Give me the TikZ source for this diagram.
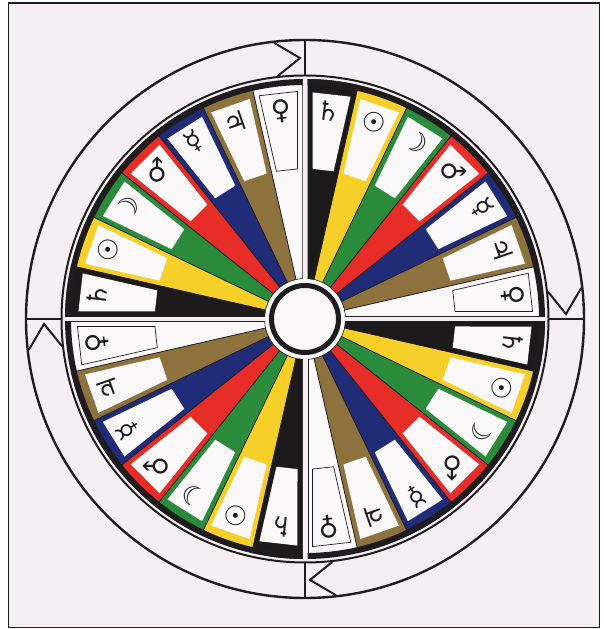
\documentclass[tikz,border=0pt]{standalone}
\usepackage{fontspec}
\newfontfamily\astro{DejaVu Sans}
\definecolor{bg}{RGB}{245,238,243}
\definecolor{ink}{RGB}{30,28,30}
\definecolor{boxw}{RGB}{251,248,250}
\definecolor{cSat}{RGB}{28,26,26}
\definecolor{cSun}{RGB}{246,208,40}
\definecolor{cMoon}{RGB}{42,140,58}
\definecolor{cMars}{RGB}{230,45,40}
\definecolor{cMerc}{RGB}{32,44,120}
\definecolor{cJup}{RGB}{142,114,62}
\definecolor{cVen}{RGB}{251,248,250}
\tikzset{
  ringline/.style={draw=ink, line width=2.4pt},
  thinline/.style={draw=ink, line width=0.8pt},
  glyph/.style={font=\astro\fontsize{27}{27}\selectfont, text=ink, inner sep=0pt, transform shape, rotate=-90},
}
\begin{document}
\begin{tikzpicture}[x=1pt,y=1pt]
\useasboundingbox (0,0) rectangle (603,629);
\fill[white] (0,0) rectangle (603,629);
\fill[bg] (8.5,1.5) rectangle (599.5,626);
\draw[ink, line width=1.6pt] (8.5,1.5) rectangle (599.5,626);
\coordinate (O) at (305,310);
\begin{scope}[shift={(O)}]
  % outer ring
  \draw[ringline] (0,0) circle (279);
  \draw[ink, line width=2pt] (0,0) circle (243.5);
  \foreach \q in {0,90,180,270}{
    \draw[ink, line width=2pt] (\q:243.5) -- (\q:279);
    \draw[ink, line width=2pt, line join=miter] (\q+6.4:278) -- (\q+1.1:261) -- (\q+6.4:244.5);
  }
  % quadrants
  \foreach \q in {0,90,180,270}{
  \begin{scope}[rotate=\q]
    \begin{scope}
      \clip (2.5,2.5) rectangle (300,300);
      \foreach \i/\col in {0/cVen,1/cJup,2/cMerc,3/cMars,4/cMoon,5/cSun,6/cSat}{
        \pgfmathsetmacro\aa{\i*90/7}
        \pgfmathsetmacro\ab{(\i+1)*90/7}
        \fill[\col] (0,0) -- (\aa:240) arc[start angle=\aa, end angle=\ab, radius=240] -- cycle;
        \draw[thinline] (0,0) -- (\aa:240);
      }
      \draw[thinline] (2.9,0) -- (2.9,240);
      \draw[thinline] (0,2.9) -- (240,2.9);
      \draw[thinline] (0,0) circle (40.4);
      \draw[ink, line width=6pt] (0,0) circle (237);
      % white boxes in coloured sectors
      \foreach \i in {1,...,6}{
        \pgfmathsetmacro\du{ifthenelse(\i==6,7.5,5)}
        \begin{scope}[rotate={(\i+0.5)*90/7}]
          \fill[boxw] (150,{-(150*tan(45/7)-5/cos(45/7))}) -- (226,{-(226*tan(45/7)-5/cos(45/7))})
            -- (226,{226*tan(45/7)-\du/cos(45/7)}) -- (150,{150*tan(45/7)-\du/cos(45/7)}) -- cycle;
        \end{scope}
      }
      % outlined box in Venus sector
      \begin{scope}[rotate={0.5*90/7}]
        \draw[ink, line width=0.7pt] (150,{-(150*tan(45/7)-7.5/cos(45/7))}) -- (227,{-(227*tan(45/7)-7.5/cos(45/7))})
          -- (227,{227*tan(45/7)-5/cos(45/7)}) -- (150,{150*tan(45/7)-5/cos(45/7)}) -- cycle;
      \end{scope}
    \end{scope}
    % symbols
    \foreach \i/\s in {0/♀,1/♃,2/☿,3/♂,4/☽,5/☉,6/♄}{
      \begin{scope}[rotate={(\i+0.5)*90/7}]
        \node[glyph] (g\q-\i) at (209,0) {\s};
      \end{scope}
    }
  \end{scope}}
  % centre
  \fill[boxw] (0,0) circle (40);
  \draw[ink, line width=5pt] (0,0) circle (33.5);
\end{scope}
\end{tikzpicture}
\end{document}
